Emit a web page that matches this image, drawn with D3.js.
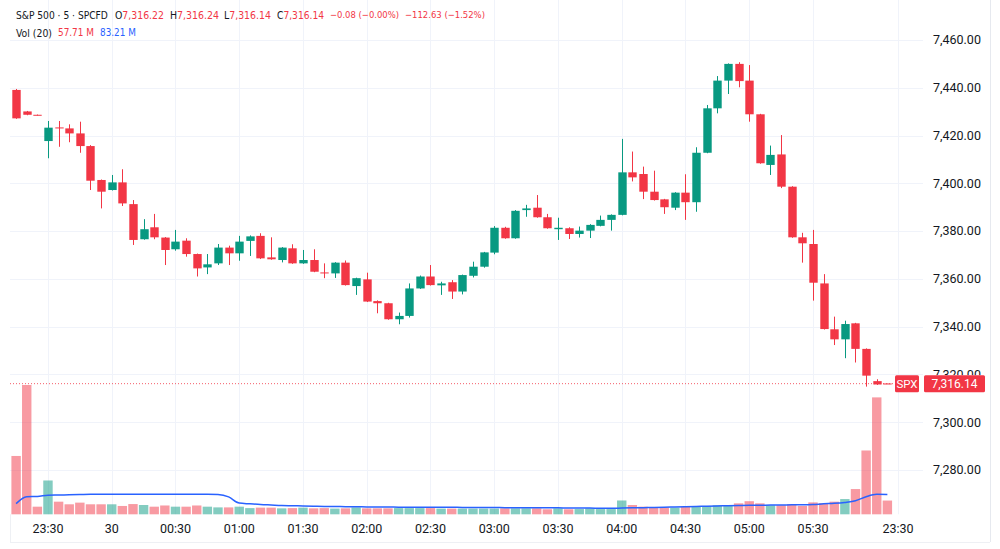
<!DOCTYPE html>
<html lang="en">
<head>
    <meta charset="UTF-8">
    <title>S&P 500 · 5 · SPCFD</title>
    <script src="https://d3js.org/d3.v7.min.js"></script>
    <style>
        body { margin: 0; background: #fff; }
        text { font-family: Roboto, "Liberation Sans", sans-serif; fill: #131722; }
    </style>
</head>
<body>
    <div id="chart"></div>

    <script>
        // Datos (velas de 5 minutos)
        const open = [7439.1, 7430.1, 7428.7, 7417.7, 7423.4, 7423.0, 7420.9, 7415.6, 7401.4, 7397.2,
            7400.4, 7391.3, 7376.6, 7381.6, 7377.3, 7372.4, 7376.0, 7370.4, 7364.8, 7366.5,
            7373.1, 7370.7, 7375.9, 7378.0, 7369.0, 7367.9, 7372.8, 7366.5, 7367.9, 7362.7,
            7362.3, 7366.8, 7357.0, 7359.8, 7350.7, 7349.8, 7343.1, 7344.5, 7356.0, 7361.0,
            7357.3, 7358.6, 7354.7, 7361.3, 7365.1, 7371.0, 7381.4, 7377.0, 7388.8, 7389.8,
            7385.8, 7380.8, 7381.2, 7378.8, 7380.2, 7382.2, 7384.7, 7386.8, 7404.6, 7403.9,
            7396.5, 7393.3, 7389.8, 7396.1, 7392.1, 7412.8, 7431.4, 7443.0, 7450.0, 7443.0,
            7428.9, 7407.7, 7412.1, 7398.6, 7377.4, 7374.6, 7358.1, 7338.9, 7334.7, 7341.4,
            7330.7, 7317.2, 7316.22];
        const high = [7439.5, 7430.3, 7428.8, 7426.1, 7426.1, 7424.7, 7425.8, 7416.0, 7401.6, 7403.5,
            7405.9, 7393.0, 7385.0, 7387.2, 7377.5, 7380.5, 7377.0, 7370.6, 7370.4, 7374.6,
            7373.9, 7378.0, 7378.2, 7379.1, 7377.4, 7373.3, 7374.5, 7372.1, 7372.4, 7366.5,
            7367.0, 7367.7, 7360.5, 7362.6, 7351.0, 7350.0, 7345.9, 7358.1, 7361.4, 7365.8,
            7358.8, 7359.5, 7361.8, 7367.2, 7371.3, 7382.1, 7381.8, 7388.8, 7391.0, 7395.1,
            7387.2, 7385.6, 7381.6, 7381.9, 7382.9, 7386.5, 7387.0, 7418.6, 7413.3, 7407.0,
            7405.3, 7393.5, 7396.3, 7403.8, 7415.1, 7432.8, 7444.9, 7450.2, 7450.7, 7449.5,
            7429.1, 7415.8, 7420.2, 7398.8, 7379.3, 7380.5, 7362.0, 7344.2, 7342.5, 7341.6,
            7330.9, 7318.0, 7316.24];
        const low = [7427.0, 7428.5, 7428.4, 7410.5, 7415.3, 7417.2, 7412.8, 7397.2, 7389.5, 7397.0,
            7390.5, 7374.2, 7376.4, 7376.6, 7365.8, 7371.8, 7369.3, 7361.0, 7362.0, 7365.8,
            7365.8, 7367.6, 7369.6, 7368.3, 7368.0, 7366.9, 7366.3, 7366.3, 7362.8, 7360.3,
            7360.4, 7357.2, 7353.3, 7350.3, 7345.6, 7342.9, 7341.0, 7343.8, 7355.8, 7357.2,
            7353.3, 7351.6, 7353.5, 7360.6, 7364.7, 7370.3, 7376.8, 7376.8, 7386.0, 7385.6,
            7381.0, 7376.3, 7376.7, 7377.3, 7377.1, 7382.0, 7380.2, 7386.6, 7400.8, 7393.4,
            7392.8, 7387.2, 7388.8, 7384.7, 7388.1, 7412.6, 7429.3, 7437.4, 7440.2, 7425.8,
            7408.2, 7403.5, 7398.0, 7377.2, 7366.8, 7350.9, 7338.8, 7332.3, 7326.8, 7325.0,
            7314.9, 7315.6, 7316.14];
        const close = [7427.2, 7428.7, 7428.5, 7423.3, 7423.2, 7420.9, 7415.6, 7401.1, 7396.5, 7400.4,
            7391.6, 7376.3, 7380.8, 7377.4, 7372.1, 7375.6, 7370.4, 7364.4, 7366.1, 7373.1,
            7370.7, 7375.6, 7377.8, 7368.6, 7368.2, 7373.1, 7366.5, 7367.9, 7363.0, 7362.5,
            7366.8, 7357.4, 7360.3, 7350.5, 7349.8, 7343.1, 7344.5, 7356.0, 7361.0, 7357.4,
            7358.1, 7354.7, 7361.6, 7365.1, 7371.1, 7381.4, 7377.0, 7388.5, 7389.5, 7385.8,
            7381.2, 7381.4, 7378.8, 7380.2, 7382.6, 7384.7, 7386.8, 7404.6, 7402.5, 7396.5,
            7393.0, 7390.0, 7396.1, 7392.1, 7412.8, 7431.4, 7443.0, 7450.0, 7442.8, 7428.9,
            7408.4, 7411.9, 7398.6, 7377.4, 7374.9, 7358.4, 7339.0, 7334.7, 7341.1, 7330.7,
            7319.5, 7315.8, 7316.14];
        // Volumen en millones
        const volume = [245, 543, 32, 142, 53, 42, 49, 42, 42, 42,
            35, 43, 39, 32, 37, 32, 32, 37, 32, 29,
            29, 32, 26, 28, 28, 25, 26, 28, 25, 26,
            24, 25, 29, 25, 25, 25, 26, 26, 26, 26,
            24, 24, 24, 24, 24, 24, 25, 25, 25, 25,
            21, 25, 21, 22, 25, 22, 22, 58, 39, 32,
            29, 29, 28, 32, 32, 35, 38, 39, 46, 55,
            46, 38, 38, 42, 35, 50, 47, 53, 64, 106,
            268, 491, 57.71];
        const volumeMA = [45, 74, 75, 80, 81, 82, 83, 84, 84, 84,
            84, 84, 84, 84, 84, 84, 84, 84, 84, 83,
            73, 47, 44, 41, 39, 37, 36, 35, 34, 33,
            33, 32, 32, 31, 31, 31, 30, 30, 30, 30,
            30, 30, 29, 29, 29, 29, 28, 28, 28, 27,
            27, 27, 26, 26, 26, 25, 25, 26, 27, 28,
            29, 30, 31, 32, 33, 34, 35, 36, 37, 38,
            38, 39, 39, 40, 40, 41, 44, 46, 50, 57,
            74, 84, 83.21];
        const timeTickIndex = [3, 9, 15, 21, 27, 33, 39, 45, 51, 57, 63, 69, 75, 83];
        const timeTickLabels = ["23:30", "30", "00:30", "01:00", "01:30", "02:00", "02:30", "03:00", "03:30", "04:00", "04:30", "05:00", "05:30", "23:30"];
        const priceTicks = [7280, 7300, 7320, 7340, 7360, 7380, 7400, 7420, 7440, 7460];
        const lastPrice = 7316.14;

        const UP = "#089981", DOWN = "#F23645";
        const width = 1000, height = 549;
        const plotLeft = 10, plotRight = 923, paneRight = 990;
        const volBase = 514.3, axisBottom = 542;

        const svg = d3.select("#chart")
            .append("svg")
            .attr("width", width)
            .attr("height", height);

        const x = d3.scaleLinear().domain([0, 83]).range([16.1, 898]);
        const y = d3.scaleLinear().domain([7280, 7460]).range([470, 40]);
        const yVol = d3.scaleLinear().domain([0, 543]).range([volBase, 385]);

        const data = open.map((o, i) => ({
            i: i, o: o, h: high[i], l: low[i], c: close[i], v: volume[i], ma: volumeMA[i]
        }));

        // Rejilla
        const grid = svg.append("g").attr("stroke", "#f0f3fa").attr("stroke-width", 1);
        grid.selectAll(".hgrid").data(priceTicks).enter().append("line")
            .attr("x1", plotLeft).attr("x2", plotRight)
            .attr("y1", d => Math.round(y(d)) + 0.5).attr("y2", d => Math.round(y(d)) + 0.5);
        grid.selectAll(".vgrid").data(timeTickIndex).enter().append("line")
            .attr("x1", d => Math.round(x(d)) + 0.5).attr("x2", d => Math.round(x(d)) + 0.5)
            .attr("y1", 0).attr("y2", volBase);

        // Bordes del panel
        svg.append("line").attr("x1", paneRight + 0.5).attr("x2", paneRight + 0.5)
            .attr("y1", 0).attr("y2", axisBottom).attr("stroke", "#e6e9ef");
        svg.append("line").attr("x1", plotLeft).attr("x2", paneRight)
            .attr("y1", axisBottom + 0.5).attr("y2", axisBottom + 0.5).attr("stroke", "#eef0f4");
        svg.append("line").attr("x1", plotLeft + 0.5).attr("x2", plotLeft + 0.5)
            .attr("y1", volBase).attr("y2", axisBottom).attr("stroke", "#eef0f4");

        // Barras de volumen
        svg.append("g").selectAll("rect").data(data).enter().append("rect")
            .attr("x", d => x(d.i) - 4.7)
            .attr("width", 9.4)
            .attr("y", d => yVol(d.v))
            .attr("height", d => volBase - yVol(d.v))
            .attr("fill", d => d.c >= d.o ? UP : DOWN)
            .attr("fill-opacity", 0.5);

        // Media movil del volumen
        svg.append("path")
            .datum(data)
            .attr("fill", "none")
            .attr("stroke", "#2962FF")
            .attr("stroke-width", 1.5)
            .attr("d", d3.line().x(d => x(d.i)).y(d => yVol(d.ma)).curve(d3.curveMonotoneX));

        // Linea del ultimo precio
        svg.append("line")
            .attr("x1", plotLeft).attr("x2", 895)
            .attr("y1", y(lastPrice)).attr("y2", y(lastPrice))
            .attr("stroke", DOWN).attr("stroke-opacity", 0.8)
            .attr("stroke-dasharray", "1,2");

        // Velas
        const candles = svg.append("g").selectAll("g").data(data).enter().append("g");
        candles.append("line")
            .attr("x1", d => Math.round(x(d.i)) + 0.5).attr("x2", d => Math.round(x(d.i)) + 0.5)
            .attr("y1", d => y(d.h)).attr("y2", d => y(d.l))
            .attr("stroke", d => d.c >= d.o ? UP : DOWN);
        candles.append("rect")
            .attr("x", d => Math.round(x(d.i)) + 0.5 - 4.2)
            .attr("width", 8.4)
            .attr("y", d => y(Math.max(d.o, d.c)))
            .attr("height", d => Math.max(1, Math.abs(y(d.o) - y(d.c))))
            .attr("fill", d => d.c >= d.o ? UP : DOWN);

        // Eje de precios (la etiqueta 7,320 queda tapada en parte por el precio actual)
        svg.append("clipPath").attr("id", "axis-clip")
            .append("rect").attr("x", 924).attr("y", 0).attr("width", 66).attr("height", y(lastPrice) - 8.5);
        svg.append("g").selectAll("text").data(priceTicks).enter().append("text")
            .attr("x", 933).attr("y", d => y(d)).attr("dy", "0.35em")
            .attr("clip-path", d => Math.abs(y(d) - y(lastPrice)) < 17 ? "url(#axis-clip)" : null)
            .style("font-size", "12.5px")
            .text(d => d3.format(",.2f")(d));

        // Etiquetas del ultimo precio
        const yl = y(lastPrice);
        svg.append("rect").attr("x", 895).attr("y", yl - 8.5).attr("width", 24).attr("height", 17)
            .attr("rx", 1.5).attr("fill", DOWN);
        svg.append("rect").attr("x", 924).attr("y", yl - 8.5).attr("width", 61).attr("height", 17)
            .attr("rx", 1.5).attr("fill", DOWN);
        svg.append("text").attr("x", 907).attr("y", yl).attr("dy", "0.35em")
            .attr("text-anchor", "middle").style("font-size", "11.5px").style("fill", "#fff")
            .text("SPX");
        svg.append("text").attr("x", 954.5).attr("y", yl).attr("dy", "0.35em")
            .attr("text-anchor", "middle").style("font-size", "12px").style("fill", "#fff")
            .text(d3.format(",.2f")(lastPrice));

        // Eje de tiempo
        svg.append("g").selectAll("text").data(timeTickIndex).enter().append("text")
            .attr("x", d => x(d)).attr("y", 529).attr("dy", "0.35em")
            .attr("text-anchor", "middle")
            .style("font-size", "12.5px")
            .text((d, i) => timeTickLabels[i]);

        // Leyenda superior: cada grupo es un solo texto con partes de color
        const legend = [
            {x: 16, w: 92, row: 0, parts: [["S&P 500 · 5 · SPCFD", "#131722"]]},
            {x: 115, w: 49, row: 0, parts: [["O", "#131722"], ["7,316.22", DOWN]]},
            {x: 170, w: 49, row: 0, parts: [["H", "#131722"], ["7,316.24", DOWN]]},
            {x: 224, w: 47, row: 0, parts: [["L", "#131722"], ["7,316.14", DOWN]]},
            {x: 277, w: 47, row: 0, parts: [["C", "#131722"], ["7,316.14", DOWN]]},
            {x: 330, w: 69, row: 0, parts: [["−0.08 (−0.00%)", DOWN]]},
            {x: 405, w: 80, row: 0, parts: [["−112.63 (−1.52%)", DOWN]]},
            {x: 16, w: 36, row: 1, parts: [["Vol (20)", "#131722"]]},
            {x: 58, w: 36, row: 1, parts: [["57.71 M", DOWN]]},
            {x: 100, w: 36, row: 1, parts: [["83.21 M", "#2962FF"]]}
        ];
        const legendText = svg.append("g").selectAll("text").data(legend).enter().append("text")
            .attr("x", d => d.x)
            .attr("y", d => d.row === 0 ? 15 : 33)
            .attr("dy", "0.35em")
            .style("font-family", "'Liberation Sans Narrow', 'DejaVu Sans Condensed', Roboto, sans-serif")
            .style("font-size", "13px");
        legendText.selectAll("tspan").data(d => d.parts).enter().append("tspan")
            .style("fill", p => p[1])
            .text(p => p[0]);
        // Reducir el tamano si el texto no cabe en su hueco
        legendText.each(function(d) {
            const len = this.getComputedTextLength();
            if (len > d.w) d3.select(this).style("font-size", (13 * d.w / len) + "px");
        });
    </script>
</body>
</html>
